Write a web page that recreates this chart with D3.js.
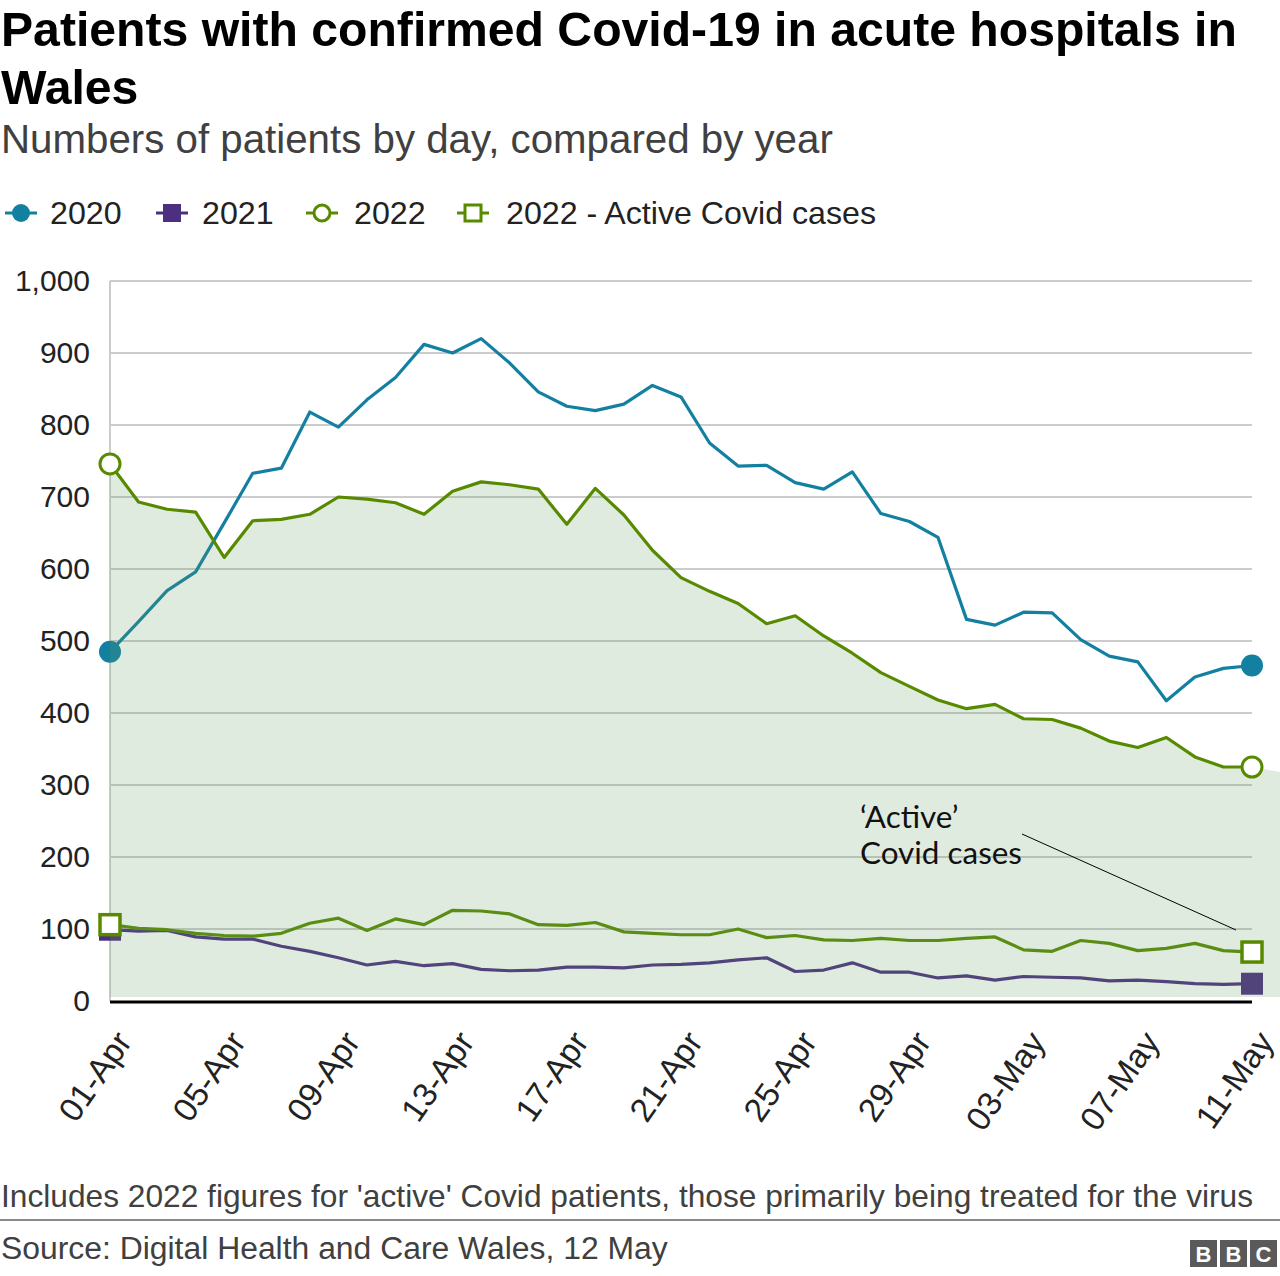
<!DOCTYPE html>
<html>
<head>
<meta charset="utf-8">
<script src="https://cdn.jsdelivr.net/npm/d3@7"></script>
<style>
  html, body { margin: 0; padding: 0; background: #fff; }
  svg { display: block; }
</style>
</head>
<body>
<svg id="chart" width="1280" height="1276"></svg>
<script>
// ---- data ----
const days = ["01-Apr","02-Apr","03-Apr","04-Apr","05-Apr","06-Apr","07-Apr","08-Apr","09-Apr","10-Apr",
  "11-Apr","12-Apr","13-Apr","14-Apr","15-Apr","16-Apr","17-Apr","18-Apr","19-Apr","20-Apr",
  "21-Apr","22-Apr","23-Apr","24-Apr","25-Apr","26-Apr","27-Apr","28-Apr","29-Apr","30-Apr",
  "01-May","02-May","03-May","04-May","05-May","06-May","07-May","08-May","09-May","10-May","11-May"];
const tickLabels = ["01-Apr","05-Apr","09-Apr","13-Apr","17-Apr","21-Apr","25-Apr","29-Apr","03-May","07-May","11-May"];
const yTicks = [0,100,200,300,400,500,600,700,800,900,1000];

const s2020 = [485,527,570,596,664,733,740,818,797,835,866,912,900,920,886,846,826,820,829,855,
  839,775,743,744,720,711,735,677,666,644,530,522,540,539,502,479,471,417,450,462,466];
const s2021 = [99,97,98,89,86,86,76,69,60,50,55,49,52,44,42,43,47,47,46,50,
  51,53,57,60,41,43,53,40,40,32,35,29,34,33,32,28,29,27,24,23,24];
const s2022 = [746,693,683,679,616,667,669,676,700,697,692,676,708,721,717,711,662,712,675,626,
  588,569,552,524,535,507,483,456,437,418,406,412,392,391,379,361,352,366,339,325,325];
const sActive = [106,101,99,94,91,90,94,108,115,98,114,106,126,125,121,106,105,109,96,94,
  92,92,100,88,91,85,84,87,84,84,87,89,71,69,84,80,70,73,80,70,68];
// shaded band continues one step past the last day
const areaExtra = [318];

const C2020 = "#1380A1", C2021 = "#4d2f80", C2022 = "#588a00";
const FONT = "'Liberation Sans', Arial, sans-serif";

// ---- helpers ----
function fit(sel, base, target) {
  const w = sel.node().getComputedTextLength();
  if (w > 0) sel.style("font-size", (base * target / w).toFixed(2) + "px");
  return sel;
}

// ---- layout ----
const svg = d3.select("#chart");
const pLeft = 110, pRight = 1252, pTop = 281, pBottom = 1001;
const x = d3.scaleLinear().domain([0, days.length - 1]).range([pLeft, pRight]);
const y = d3.scaleLinear().domain([0, 1000]).range([pBottom, pTop]);

// titles
const t1 = svg.append("text").attr("x", 1).attr("y", 46)
  .style("font-family", FONT).style("font-weight", "bold").style("font-size", "40px").attr("fill", "#000")
  .text("Patients with confirmed Covid-19 in acute hospitals in");
fit(t1, 40, 1236);
svg.append("text").attr("x", 1).attr("y", 104)
  .style("font-family", FONT).style("font-weight", "bold").style("font-size", t1.style("font-size")).attr("fill", "#000")
  .text("Wales");
const sub = svg.append("text").attr("x", 1).attr("y", 153)
  .style("font-family", FONT).style("font-size", "34px").attr("fill", "#404040")
  .text("Numbers of patients by day, compared by year");
fit(sub, 34, 832);

// legend
const lg = svg.append("g");
const legendItems = [
  {lx: 21, tx: 50, label: "2020", kind: "circleFill", color: C2020},
  {lx: 172, tx: 202, label: "2021", kind: "squareFill", color: C2021},
  {lx: 322, tx: 354, label: "2022", kind: "circleOpen", color: C2022},
  {lx: 473, tx: 506, label: "2022 - Active Covid cases", kind: "squareOpen", color: C2022}
];
const legendTexts = [];
legendItems.forEach(it => {
  const cy = 213;
  lg.append("line").attr("x1", it.lx - 16).attr("x2", it.lx + 16).attr("y1", cy).attr("y2", cy)
    .attr("stroke", it.color).attr("stroke-width", 3);
  if (it.kind === "circleFill") lg.append("circle").attr("cx", it.lx).attr("cy", cy).attr("r", 9).attr("fill", it.color);
  if (it.kind === "circleOpen") lg.append("circle").attr("cx", it.lx).attr("cy", cy).attr("r", 8).attr("fill", "#fff").attr("stroke", it.color).attr("stroke-width", 3);
  if (it.kind === "squareFill") lg.append("rect").attr("x", it.lx - 9).attr("y", cy - 9).attr("width", 18).attr("height", 18).attr("fill", it.color);
  if (it.kind === "squareOpen") lg.append("rect").attr("x", it.lx - 8).attr("y", cy - 8).attr("width", 16).attr("height", 16).attr("fill", "#fff").attr("stroke", it.color).attr("stroke-width", 3);
  legendTexts.push(lg.append("text").attr("x", it.tx).attr("y", cy + 11).attr("fill", "#222")
    .style("font-family", FONT).style("font-size", "31px").text(it.label));
});
{
  const last = legendTexts[legendTexts.length - 1];
  fit(last, 31, 370);
  legendTexts.forEach(t => t.style("font-size", last.style("font-size")));
}

// gridlines
svg.append("g").selectAll("line").data(yTicks.filter(d => d > 0)).join("line")
  .attr("x1", pLeft).attr("x2", pRight).attr("y1", d => y(d)).attr("y2", d => y(d))
  .attr("stroke", "#cccccc").attr("stroke-width", 2);
svg.append("line").attr("x1", pLeft).attr("x2", pLeft).attr("y1", pTop).attr("y2", pBottom)
  .attr("stroke", "#cccccc").attr("stroke-width", 2);

// y labels
svg.append("g").selectAll("text").data(yTicks).join("text")
  .attr("x", 90).attr("y", d => y(d) + 10).attr("text-anchor", "end")
  .style("font-family", FONT).style("font-size", "30px").attr("fill", "#222")
  .text(d => d3.format(",")(d));

const line = d3.line().x((d, i) => x(i)).y(d => y(d));

// lines that sit beneath the shaded band
svg.append("path").attr("d", line(s2020)).attr("fill", "none").attr("stroke", C2020).attr("stroke-width", 3.2).attr("stroke-linejoin", "round");
svg.append("path").attr("d", line(s2021)).attr("fill", "none").attr("stroke", C2021).attr("stroke-width", 3.2).attr("stroke-linejoin", "round");
svg.append("path").attr("d", line(sActive)).attr("fill", "none").attr("stroke", C2022).attr("stroke-width", 3.2).attr("stroke-linejoin", "round");
[0, s2020.length - 1].forEach(i => {
  svg.append("circle").attr("cx", x(i)).attr("cy", y(s2020[i])).attr("r", 11).attr("fill", C2020);
  svg.append("rect").attr("x", x(i) - 11).attr("y", y(s2021[i]) - 11).attr("width", 22).attr("height", 22).attr("fill", C2021);
});

// shaded band under 2022
const areaData = s2022.concat(areaExtra);
const area = d3.area().x((d, i) => x(i)).y0(y(0) - 4).y1(d => y(d));
svg.append("path").attr("d", area(areaData)).attr("fill", "rgb(100,155,100)").attr("fill-opacity", 0.2);

// x axis baseline
svg.append("line").attr("x1", pLeft).attr("x2", pRight).attr("y1", pBottom + 1).attr("y2", pBottom + 1)
  .attr("stroke", "#000").attr("stroke-width", 3);

// 2022 line on top
svg.append("path").attr("d", line(s2022)).attr("fill", "none").attr("stroke", C2022).attr("stroke-width", 3.2).attr("stroke-linejoin", "round");
[0, s2022.length - 1].forEach(i => {
  svg.append("circle").attr("cx", x(i)).attr("cy", y(s2022[i])).attr("r", 10).attr("fill", "#fff").attr("stroke", C2022).attr("stroke-width", 3);
  svg.append("rect").attr("x", x(i) - 10).attr("y", y(sActive[i]) - 10).attr("width", 20).attr("height", 20).attr("fill", "#fff").attr("stroke", C2022).attr("stroke-width", 3.5);
});

// annotation
const ann = svg.append("g").style("font-family", "Lato, 'Open Sans', sans-serif").attr("fill", "#111");
const a1 = ann.append("text").attr("x", 860).attr("y", 828).style("font-size", "28px").text("\u2018Active\u2019");
const a2 = ann.append("text").attr("x", 860).attr("y", 864).style("font-size", "28px").text("Covid cases");
fit(a2, 28, 162);
a1.style("font-size", a2.style("font-size"));
svg.append("line").attr("x1", 1022).attr("y1", 834).attr("x2", 1236).attr("y2", 930)
  .attr("stroke", "#000").attr("stroke-width", 1);

// x tick labels
const tickIdx = tickLabels.map(t => days.indexOf(t));
const xt = svg.append("g").selectAll("text").data(tickIdx).join("text")
  .attr("transform", i => `translate(${x(i) + 23},${pBottom + 41}) rotate(-55)`)
  .attr("text-anchor", "end")
  .style("font-family", FONT).style("font-size", "28px").attr("fill", "#222")
  .text(i => days[i]);
{
  const w0 = xt.nodes()[0].getComputedTextLength();
  xt.style("font-size", (28 * 100 / w0).toFixed(2) + "px");
}

// footer
const note = svg.append("text").attr("x", 1).attr("y", 1207)
  .style("font-family", FONT).style("font-size", "28px").attr("fill", "#404040")
  .text("Includes 2022 figures for 'active' Covid patients, those primarily being treated for the virus");
fit(note, 28, 1252);
svg.append("line").attr("x1", 0).attr("x2", 1280).attr("y1", 1220).attr("y2", 1220).attr("stroke", "#8a8a8a").attr("stroke-width", 2);
const src = svg.append("text").attr("x", 1).attr("y", 1259)
  .style("font-family", FONT).style("font-size", "28px").attr("fill", "#404040")
  .text("Source: Digital Health and Care Wales, 12 May");
fit(src, 28, 667);
const bbc = svg.append("g");
["B","B","C"].forEach((l, k) => {
  bbc.append("rect").attr("x", 1190 + k * 30).attr("y", 1240).attr("width", 27).attr("height", 27).attr("fill", "#5a5a5a");
  bbc.append("text").attr("x", 1190 + k * 30 + 13.5).attr("y", 1262).attr("text-anchor", "middle")
    .style("font-family", FONT).style("font-weight", "bold").style("font-size", "22px").attr("fill", "#fff").text(l);
});
</script>
</body>
</html>
